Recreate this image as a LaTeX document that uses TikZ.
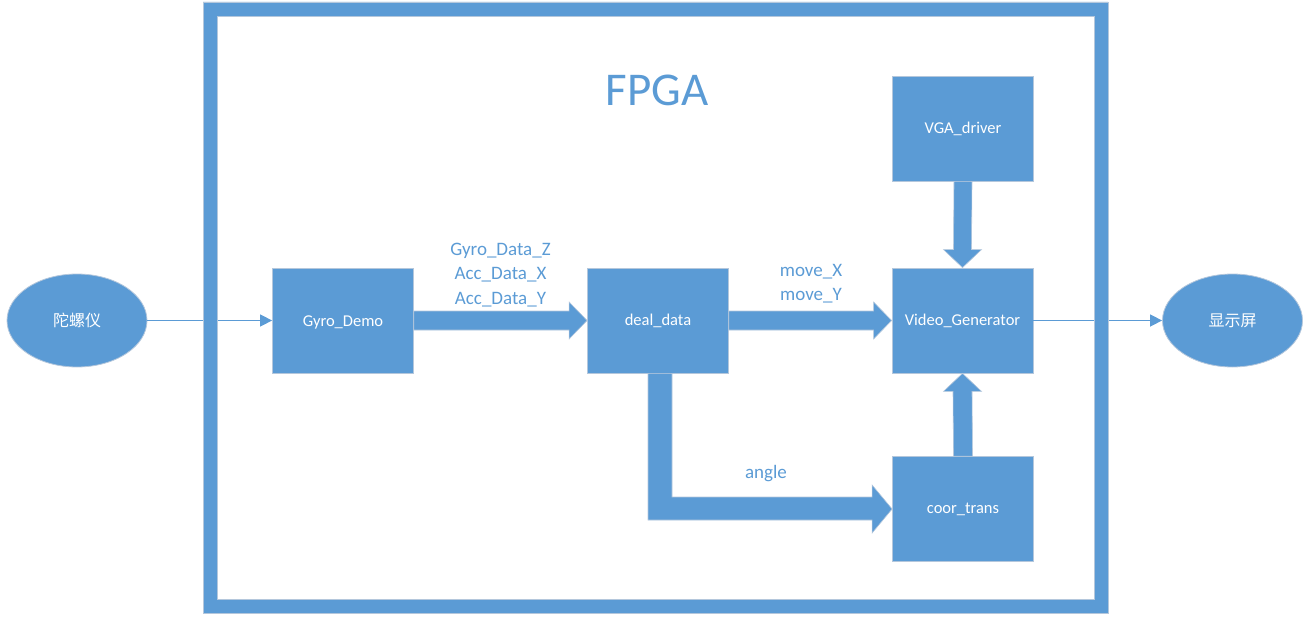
\documentclass[tikz,border=0pt]{standalone}
\usepackage{fontspec}
\setmainfont{Carlito}
\newfontfamily\cjk{Noto Sans CJK SC}
\usetikzlibrary{calc,arrows.meta,shapes.geometric}
\definecolor{obl}{HTML}{5B9BD5}
\definecolor{edg}{HTML}{B4C7DC}
\tikzset{
  blk/.style={rectangle,fill=obl,draw=edg,line width=0.8pt,minimum width=141pt,minimum height=105pt,inner sep=0pt,text=white,font=\fontsize{16.5}{19}\selectfont},
  ell/.style={ellipse,fill=obl,draw=edg,line width=0.8pt,minimum width=140pt,minimum height=93pt,inner sep=0pt,text=white,font=\cjk\fontsize{16}{19}\selectfont},
  lbl/.style={text=obl,align=center,inner sep=0pt,font=\fontsize{19}{24.5}\selectfont},
  thin/.style={draw=obl,line width=1.5pt,-{Triangle[length=12pt,width=12pt]}},
  fat/.style={fill=obl,draw=edg,line width=0.6pt}
}
\begin{document}
\begin{tikzpicture}[x=1pt,y=-1pt]
\useasboundingbox (0,0) rectangle (1310,623);
% nodes
\node[ell] (gyro) at (77,320.5) {陀螺仪};
\node[ell] (disp) at (1232.5,320.5) {显示屏};
\node[blk,text depth=0pt] (gd) at (343,320.5) {\raisebox{-1.5pt}{Gyro\_Demo}};
\node[blk] (dd) at (658,320.5) {\raisebox{-1.5pt}{deal\_data}};
\node[blk] (vg) at (962.5,320.5) {\raisebox{-1.5pt}{Video\_Generator}};
\node[blk] (vga) at (963,128.5) {\raisebox{-1.5pt}{VGA\_driver}};
\node[blk] (ct) at (963,509) {\raisebox{-1.5pt}{coor\_trans}};
% thin arrows
\draw[thin] (gyro.east) -- (gd.west);
\draw[thin] (vg.east) -- (disp.west);
% frame
\fill[obl,even odd rule,draw=edg,line width=0.6pt] (203,2) rectangle (1108,613) (217,16) rectangle (1094,599);
\node[text=obl,inner sep=0pt,font=\fontsize{47}{52}\selectfont] (fpga) at (657,90) {FPGA};
% fat arrows
\path[fat] ($(gd.east)+(0,-9.5)$) -- ($(dd.west)+(-18,-9.5)$) -- ($(dd.west)+(-18,-18.5)$) -- (dd.west)
  -- ($(dd.west)+(-18,18.5)$) -- ($(dd.west)+(-18,9.5)$) -- ($(gd.east)+(0,9.5)$) -- cycle;
\path[fat] ($(dd.east)+(0,-9.5)$) -- ($(vg.west)+(-18,-9.5)$) -- ($(vg.west)+(-18,-18.5)$) -- (vg.west)
  -- ($(vg.west)+(-18,18.5)$) -- ($(vg.west)+(-18,9.5)$) -- ($(dd.east)+(0,9.5)$) -- cycle;
\path[fat] ($(vga.south)+(-9,0)$) -- ($(vg.north)+(-9,-18)$) -- ($(vg.north)+(-19,-18)$) -- (vg.north)
  -- ($(vg.north)+(19,-18)$) -- ($(vg.north)+(9,-18)$) -- ($(vga.south)+(9,0)$) -- cycle;
\path[fat] ($(ct.north)+(-9.5,0)$) -- ($(vg.south)+(-9.5,18)$) -- ($(vg.south)+(-19,18)$) -- (vg.south)
  -- ($(vg.south)+(19,18)$) -- ($(vg.south)+(9.5,18)$) -- ($(ct.north)+(9.5,0)$) -- cycle;
\coordinate (dl) at ($(dd.south)+(-10,0)$);
\coordinate (dr) at ($(dd.south)+(14,0)$);
\coordinate (c1) at ($(ct.west)+(-20,11)$);
\coordinate (c2) at ($(ct.west)+(-20,-12)$);
\path[fat] (dl) -- (dl |- c1) -- (c1) -- ($(ct.west)+(-20,24)$) -- (ct.west) -- ($(ct.west)+(-20,-24)$)
  -- (c2) -- (dr |- c2) -- (dr) -- cycle;
% labels
\node[lbl] (l1) at (500.5,275) {Gyro\_Data\_Z\\Acc\_Data\_X\\Acc\_Data\_Y};
\node[lbl] (l2) at (811,283.5) {move\_X\\move\_Y};
\node[lbl] (l3) at (766,473.5) {angle};
\end{tikzpicture}
\end{document}
